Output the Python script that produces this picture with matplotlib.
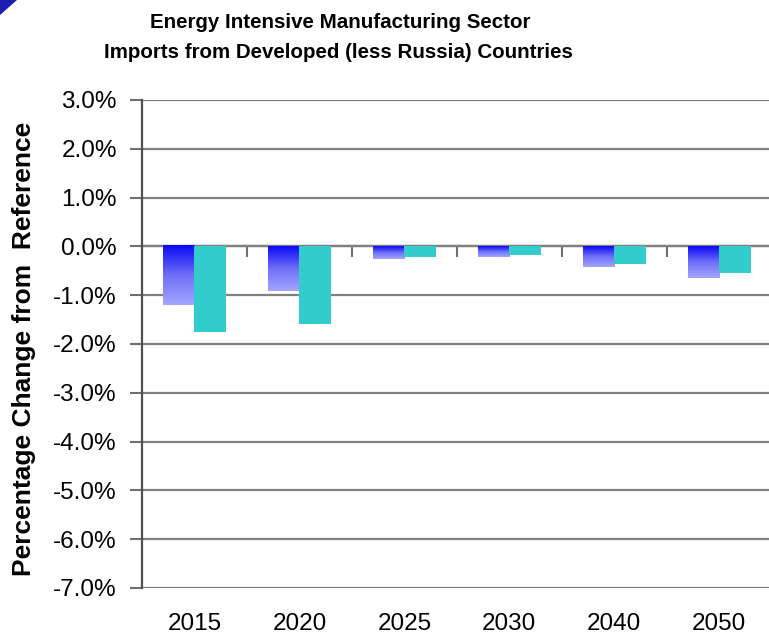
import numpy as np
import matplotlib
matplotlib.use("Agg")
import matplotlib.pyplot as plt
from matplotlib.colors import LinearSegmentedColormap
from matplotlib.patches import Polygon

plt.rcParams['font.family'] = ['Liberation Sans', 'DejaVu Sans']

years = ["2015", "2020", "2025", "2030", "2040", "2050"]
series_a = [-1.21, -0.91, -0.25, -0.22, -0.42, -0.64]   # blue gradient bars
series_b = [-1.76, -1.60, -0.21, -0.17, -0.37, -0.54]   # teal bars
yticks = [3, 2, 1, 0, -1, -2, -3, -4, -5, -6, -7]

W, H = 769, 638
fig = plt.figure(figsize=(W / 100, H / 100), dpi=100)
ax = fig.add_axes([142 / W, (H - 588) / H, (771.7 - 142) / W, (588 - 100) / H])

x = np.arange(len(years))
bw = 0.3
grad = LinearSegmentedColormap.from_list("bluegrad", ["#0a0af5", "#6f6ff8", "#a4a4ff"])
g = np.linspace(0, 1, 100).reshape(-1, 1)

# blue gradient bars
for xi, v in zip(x, series_a):
    ax.imshow(g, extent=[xi - bw, xi, v, 0], aspect="auto", cmap=grad,
              origin="upper", zorder=3, interpolation="bilinear")
ax.bar(x + bw / 2, series_b, width=bw, color="#33cccc", zorder=3)

ax.set_xlim(-0.5, len(years) - 0.5)
ax.set_ylim(-7, 3)
ax.set_yticks(yticks)
ax.set_yticklabels([f"{t:.1f}%" for t in yticks], fontsize=17.5)
ax.set_xticks(x)
ax.set_xticklabels(years, fontsize=17.5)
ax.tick_params(axis="x", length=0, pad=18)
ax.tick_params(axis="y", length=9, width=1.5, color="#707070", pad=9)
ax.yaxis.grid(True, color="#808080", lw=1.6, zorder=1)
ax.set_axisbelow(True)
for s in ["top", "right", "bottom"]:
    ax.spines[s].set_visible(False)
ax.spines["left"].set_color("#505050")
ax.spines["left"].set_linewidth(1.6)

# category axis crossing at zero with boundary ticks
sec = ax.secondary_xaxis(0.7)
sec.set_xticks(np.arange(len(years) - 1) + 0.5)
sec.set_xticklabels([])
sec.tick_params(length=8, width=1.5, color="#707070", direction="in")
sec.spines["bottom"].set_color("#606060")
sec.spines["bottom"].set_linewidth(1.6)
sec.spines["top"].set_color("#606060")
sec.spines["top"].set_linewidth(1.6)

ax.set_ylabel("Percentage Change from  Reference", fontsize=19, fontweight="bold")
ax.yaxis.set_label_coords(-0.169, 0.49)

fig.text(340 / W, 1 - 22 / H, "Energy Intensive Manufacturing Sector", ha="center", va="center",
         fontsize=14.8, fontweight="bold")
fig.text(338 / W, 1 - 53 / H, "Imports from Developed (less Russia) Countries", ha="center", va="center",
         fontsize=14.8, fontweight="bold")

# corner decoration
fig.patches.append(Polygon([(0, 1), (17 / W, 1), (0, 1 - 15 / H)], closed=True,
                           transform=fig.transFigure, facecolor="#1c1cb0", edgecolor="none"))

fig.savefig("out.png", dpi=100)
